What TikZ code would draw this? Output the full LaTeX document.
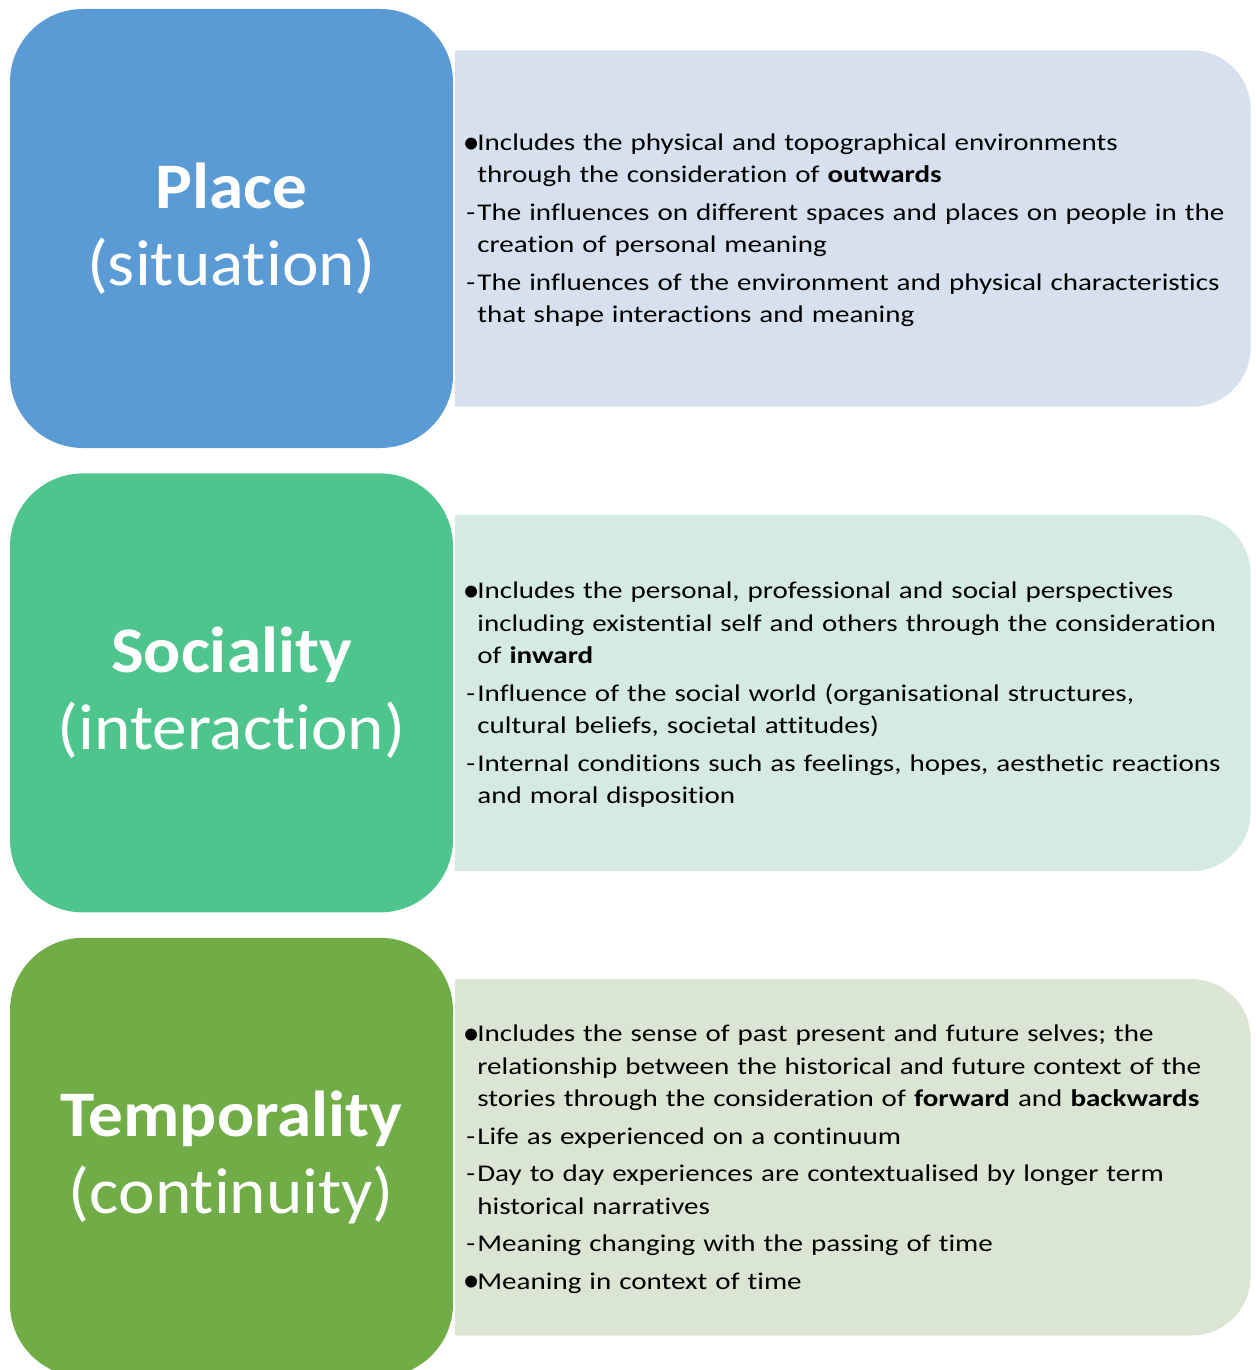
\documentclass[tikz,border=0pt]{standalone}
\usepackage{fontspec}
\usepackage{graphicx}
\setmainfont{Carlito}[Ligatures=NoCommon]
\newfontfamily\titlefont{Carlito}[FakeStretch=1.065, Ligatures=NoCommon]
\newfontfamily\panelfont{Carlito}[FakeStretch=1.21, Ligatures=NoCommon]
\usetikzlibrary{positioning,backgrounds}
\definecolor{placeBlue}{HTML}{5B9BD5}
\definecolor{placeTint}{HTML}{D6E0EF}
\definecolor{socialGreen}{HTML}{4FC58E}
\definecolor{socialTint}{HTML}{D5EBE1}
\definecolor{timeGreen}{HTML}{70AD47}
\definecolor{timeTint}{HTML}{DAE5D3}

% one line of a panel list: mark, then hanging text
\newcommand{\listline}[2]{\par\hangindent=11pt\hangafter=1\noindent\makebox[11pt][l]{#1}#2\par}
\newcommand{\dotline}[1]{\listline{\makebox[9.5pt][c]{\normalfont\raisebox{-2.6pt}{\scalebox{1.4}{•}}}}{#1}}
\newcommand{\dashline}[1]{\listline{-}{#1}}
% extra room under a panel list, so the text sits a little higher
\newcommand{\panelgap}{\par\vspace{17pt}\hrule height 0pt width 0pt}

% panel background: square on the left, rounded on the right
\newcommand{\panelfill}[2]{%
  \fill[#2] (#1.north west) -- ([xshift=-59pt]#1.north east)
    arc[start angle=90, end angle=0, radius=59pt]
    -- ([yshift=59pt]#1.south east)
    arc[start angle=0, end angle=-90, radius=59pt]
    -- (#1.south west) -- cycle;}

\begin{document}
\begin{tikzpicture}[x=1pt, y=1pt,
    titlebox/.style={rounded corners=73pt, minimum width=443pt, minimum height=439pt,
      text=white, align=center, inner sep=0pt, font=\titlefont\fontsize{65}{77}\selectfont},
    panel/.style={minimum width=795pt, minimum height=356pt, text width=773pt,
      inner xsep=11pt, inner ysep=0pt, align=left, right=2pt of #1,
      font=\panelfont\fontsize{24}{32.5}\selectfont\setlength{\parskip}{5pt}}]

    \useasboundingbox (0,0) rectangle (1255,-1370);

    % place
    \node[titlebox, fill=placeBlue] (place) at (231.5,-228.5) {\textbf{Place}\\(situation)};
    \node[panel=place] (placeinfo) {%
      \dotline{Includes the physical and topographical environments\newline through the consideration of \textbf{outwards}}
      \dashline{The influences on different spaces and places on people in the\newline creation of personal meaning}
      \dashline{The influences of the environment and physical characteristics\newline that shape interactions and meaning}
      \panelgap};

    % sociality
    \node[titlebox, fill=socialGreen, below=25pt of place] (social) {\textbf{Sociality}\\(interaction)};
    \node[panel=social] (socialinfo) {%
      \dotline{Includes the personal, professional and social perspectives\newline including existential self and others through the consideration\newline of \textbf{inward}}
      \dashline{Influence of the social world (organisational structures,\newline cultural beliefs, societal attitudes)}
      \dashline{Internal conditions such as feelings, hopes, aesthetic reactions\newline and moral disposition}
      \panelgap};

    % temporality
    \node[titlebox, fill=timeGreen, below=25pt of social] (time) {\textbf{Temporality}\\(continuity)};
    \node[panel=time] (timeinfo) {%
      \dotline{Includes the sense of past present and future selves; the\newline relationship between the historical and future context of the\newline stories through the consideration of \textbf{forward} and \textbf{backwards}}
      \dashline{Life as experienced on a continuum}
      \dashline{Day to day experiences are contextualised by longer term\newline historical narratives}
      \dashline{Meaning changing with the passing of time}
      \dotline{Meaning in context of time}
      \panelgap};

    % panel backgrounds
    \begin{scope}[on background layer]
      \panelfill{placeinfo}{placeTint}
      \panelfill{socialinfo}{socialTint}
      \panelfill{timeinfo}{timeTint}
    \end{scope}

\end{tikzpicture}
\end{document}
